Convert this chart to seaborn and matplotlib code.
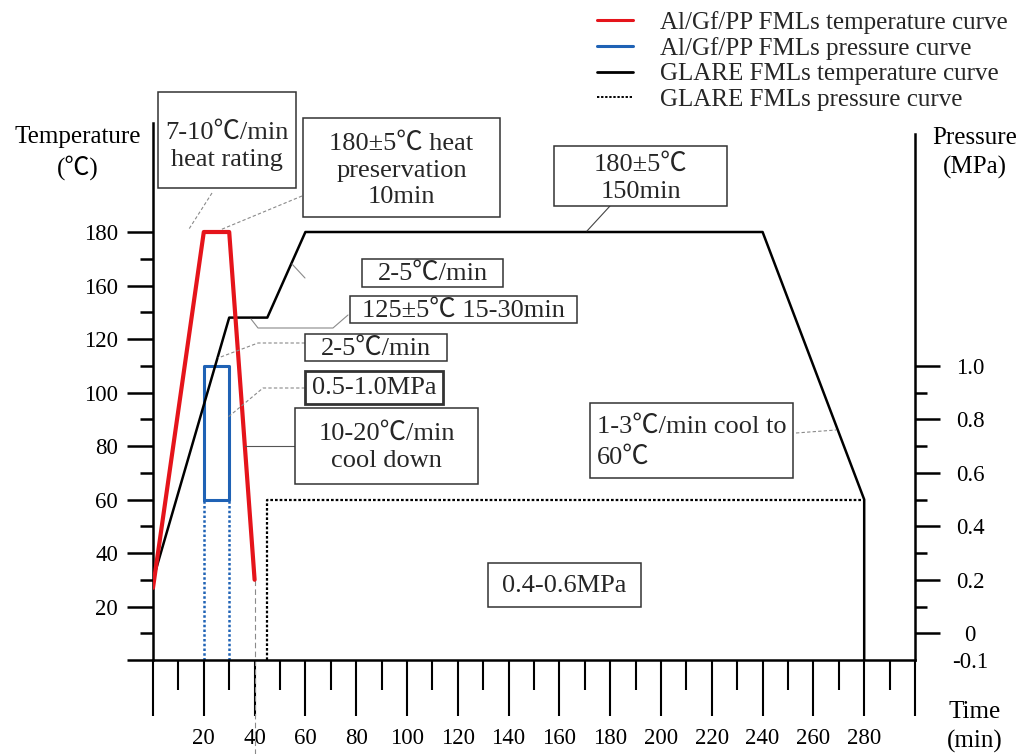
import numpy as np
import pandas as pd
import matplotlib
matplotlib.use("Agg")
import matplotlib.pyplot as plt
import matplotlib.transforms as mtransforms
from matplotlib.patches import Rectangle
from matplotlib.lines import Line2D
import seaborn as sns

# ---------------------------------------------------------------- data
# Al/Gf/PP FMLs temperature curve (time in min, temperature in degC)
algf_time = [0, 20, 30, 40]
algf_temp = [27, 180, 180, 30]

# Al/Gf/PP FMLs pressure window (MPa) and its dotted drops to the axis
algf_p_time = [20, 20, 30, 30, 20]
algf_p_val = [0.5, 1.0, 1.0, 0.5, 0.5]
algf_p_drop_time = [20, 30]
algf_p_drop_val = [-0.1, 0.5]

# GLARE FMLs temperature curve
glare_time = [0, 30, 45, 60, 240, 280, 280]
glare_temp = [30, 125, 125, 180, 180, 60, 0]

# GLARE FMLs pressure curve
glare_p_time = [45, 45, 280]
glare_p_val = [-0.1, 0.5, 0.5]

temp_ticks = [0, 20, 40, 60, 80, 100, 120, 160, 180]
temp_labels = ["", "20", "40", "60", "80", "100", "120", "160", "180"]
pressure_ticks = [-0.1, 0, 0.2, 0.4, 0.6, 0.8, 1.0]
pressure_labels = ["-0.1", "0", "0.2", "0.4", "0.6", "0.8", "1.0"]
pressure_minor = [0.1, 0.3, 0.5, 0.7, 0.9]
time_ticks = list(range(0, 301, 20))
time_labels = ["" if t in (0, 300) else str(t) for t in time_ticks]
time_minor = list(range(10, 300, 20))

# ---------------------------------------------------------------- style
sns.set_theme(style="ticks")
plt.rcParams["font.family"] = ["Liberation Serif", "Noto Sans CJK SC"]
plt.rcParams["axes.edgecolor"] = "black"
plt.rcParams["axes.linewidth"] = 1.8
plt.rcParams["xtick.color"] = "black"
plt.rcParams["ytick.color"] = "black"

RED = "#e5141b"
BLUE = "#1f62b5"
GREY = "#8a8a8a"

W, H = 1033, 754
fig = plt.figure(figsize=(W / 100, H / 100), dpi=100)
ax = fig.add_axes([153 / W, 1 - 660 / H, 762 / W, 537 / H])
# layout helper: positions in canvas pixels, origin at the top-left corner
canvas = mtransforms.Affine2D().scale(1 / W, -1 / H).translate(0, 1) + fig.transFigure

# schematic temperature axis: the span 120-160 degC is compressed
TEMP_KNOTS = [-100, 120, 125, 160, 400]
AXIS_KNOTS = [-100, 120, 128, 140, 380]


def fwd(v):
    return np.interp(v, TEMP_KNOTS, AXIS_KNOTS)


def inv(p):
    return np.interp(p, AXIS_KNOTS, TEMP_KNOTS)


ax.set_yscale("function", functions=(fwd, inv))
ax.set_xlim(0, 300)
ax.set_ylim(0, float(inv(200.75)))

ax2 = ax.twinx()
ax2.set_ylim(-0.1, 1.9075)

# ---------------------------------------------------------------- curves
sns.lineplot(x=glare_p_time, y=glare_p_val, ax=ax2, sort=False, estimator=None,
             color="black", lw=1.6, linestyle=(0, (1.2, 0.9)), zorder=2)
for t in algf_p_drop_time:
    sns.lineplot(x=[t, t], y=algf_p_drop_val, ax=ax2, sort=False, estimator=None,
                 color=BLUE, lw=1.8, linestyle=(0, (1.0, 0.9)), zorder=2)
sns.lineplot(x=algf_p_time, y=algf_p_val, ax=ax2, sort=False, estimator=None,
             color=BLUE, lw=2.2, zorder=3)
sns.lineplot(x=glare_time, y=glare_temp, ax=ax, sort=False,
             estimator=None, color="black", lw=1.8, zorder=4)
sns.lineplot(x=algf_time, y=algf_temp, ax=ax, sort=False, estimator=None,
             color=RED, lw=3.0, zorder=5)
ax.set_zorder(ax2.get_zorder() + 1)
ax.patch.set_visible(False)

# guide from the end of the Al/Gf/PP cooling down through the time axis
ax.plot([algf_time[-1], algf_time[-1]], [algf_temp[-1], -35], color=GREY,
        lw=0.8, dashes=(5, 3), clip_on=False, zorder=1)

# ---------------------------------------------------------------- axes
for s in ("top", "right"):
    ax.spines[s].set_visible(False)
for s in ("top", "left", "bottom"):
    ax2.spines[s].set_visible(False)
ax2.spines["right"].set_bounds(-0.1, 1.865)

ax.set_xticks(time_ticks)
ax.set_xticklabels(time_labels)
ax.set_xticks(time_minor, minor=True)
ax.set_yticks(temp_ticks)
ax.set_yticklabels(temp_labels)
ax.set_yticks(list(inv(np.arange(10, 160, 20))), minor=True)
ax.set_xlabel("")
ax.set_ylabel("")

ax.tick_params(axis="y", which="major", direction="out", length=18.7, width=1.8,
               pad=6.5, labelsize=16.5)
ax.tick_params(axis="y", which="minor", direction="out", length=9.4, width=1.8)
ax.tick_params(axis="x", which="major", direction="out", length=40, width=1.5,
               pad=9, labelsize=16.5)
ax.tick_params(axis="x", which="minor", direction="out", length=21.6, width=1.5)

ax2.set_yticks(pressure_ticks)
ax2.set_yticklabels(pressure_labels, ha="center")
ax2.set_yticks(pressure_minor, minor=True)
ax2.set_ylabel("")
ax2.tick_params(axis="y", which="major", direction="out", length=18, width=1.8,
                pad=21.6, labelsize=16.5)
ax2.tick_params(axis="y", which="minor", direction="out", length=8.6, width=1.8)
ax2.yaxis.get_major_ticks()[0].tick2line.set_visible(False)

# axis titles
TXT = dict(transform=canvas, ha="center", va="center", fontsize=18,
           linespacing=1.4, color="black")
fig.text(78, 153, "Temperature\n(℃)", **TXT)
fig.text(975, 153, "Pressure\n(MPa)", **TXT)
fig.text(975, 727, "Time\n(min)", **TXT)

# ---------------------------------------------------------------- notes
NOTE_SIZE = 19


def note(left, top, right, bottom, text, lw=1.1, align="center", x_text=None,
         spacing=1.3, dy=1):
    fig.add_artist(Rectangle((left, top), right - left, bottom - top,
                             transform=canvas, facecolor="white",
                             edgecolor="#333333", lw=lw, zorder=6))
    if align == "center":
        fig.text((left + right) / 2, (top + bottom) / 2 + dy, text,
                 transform=canvas, ha="center", va="center", fontsize=NOTE_SIZE,
                 linespacing=spacing, zorder=7)
    else:
        fig.text(x_text, (top + bottom) / 2 + dy, text, transform=canvas,
                 ha="left", va="center", fontsize=NOTE_SIZE,
                 linespacing=spacing, zorder=7)


def leader(points, dashed=False, color=GREY, lw=0.8):
    xs, ys = zip(*points)
    fig.add_artist(Line2D(xs, ys, transform=canvas, color=color, lw=lw,
                          dashes=(3, 2) if dashed else (None, None), zorder=5))


note(158, 92, 296, 188, "7-10℃/min\nheat rating", dy=6)
note(303, 118, 500, 217, "180±5℃ heat\npreservation\n10min", spacing=1.25, dy=3)
note(554, 146, 727, 206, "180±5℃\n150min", spacing=1.3, dy=2)
note(362, 259, 503, 287, "2-5℃/min")
note(350, 296, 577, 323, "125±5℃ 15-30min")
note(305, 334, 447, 361, "2-5℃/min")
note(305, 371, 443, 404, "0.5-1.0MPa", lw=2.0)
note(295, 408, 478, 484, "10-20℃/min\ncool down")
note(590, 403, 793, 478, "1-3℃/min cool to\n60℃", align="left", x_text=597,
     spacing=1.5, dy=2)
note(488, 563, 641, 607, "0.4-0.6MPa")

leader([(212, 193), (189, 229)], dashed=True)
leader([(302, 196), (220, 230)], dashed=True)
leader([(610, 206), (587, 231)], color="#444444")
leader([(292, 264), (305, 278)])
leader([(348, 315), (333, 328), (258, 328), (251, 319)])
leader([(305, 343), (258, 343), (218, 358)], dashed=True)
leader([(305, 388), (263, 388), (227, 418)], dashed=True)
leader([(295, 446), (245, 446)], color="#555555")
leader([(796, 433), (836, 430)], dashed=True)

# ---------------------------------------------------------------- legend
handles = [
    Line2D([], [], color=RED, lw=2.2),
    Line2D([], [], color=BLUE, lw=2.2),
    Line2D([], [], color="black", lw=2.0),
    Line2D([], [], color="black", lw=1.4, linestyle=(0, (1.2, 0.9))),
]
labels = [
    "Al/Gf/PP FMLs temperature curve",
    "Al/Gf/PP FMLs pressure curve",
    "GLARE FMLs temperature curve",
    "GLARE FMLs pressure curve",
]
fig.legend(handles, labels, loc="upper left", bbox_to_anchor=(597 / W, 1 - 11 / H),
           frameon=False, fontsize=18, borderpad=0, borderaxespad=0,
           handlelength=1.45, handletextpad=1.05, labelspacing=0.12)

fig.savefig("out.png", dpi=100)
